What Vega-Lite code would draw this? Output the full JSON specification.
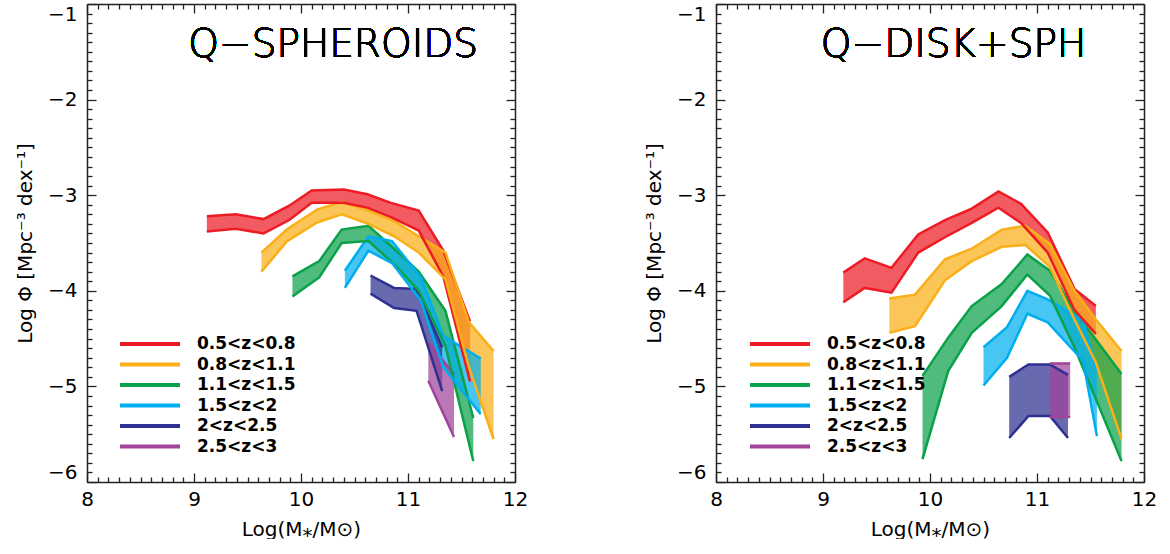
{
  "$schema": "https://vega.github.io/schema/vega-lite/v6.json",
  "padding": {"left": 15, "top": 3, "right": 5, "bottom": 0},
  "background": "white",
  "config": {
    "font": "DejaVu Sans",
    "view": {"stroke": null},
    "axis": {"grid": false, "labelFontSize": 20, "titleFontSize": 20, "titleFontWeight": "normal", "labelColor": "black", "titleColor": "black", "domainColor": "#222", "tickColor": "#222", "domainWidth": 1.5, "tickWidth": 1.3, "labelFlush": false, "labelOverlap": false},
    "legend": {"labelFont": "DejaVu Sans"}
  },
  "datasets": {
    "sph": [
      {"z": "0.5<z<0.8", "x": 9.12, "hi": -3.22, "lo": -3.38},
      {"z": "0.5<z<0.8", "x": 9.39, "hi": -3.20, "lo": -3.35},
      {"z": "0.5<z<0.8", "x": 9.65, "hi": -3.25, "lo": -3.40},
      {"z": "0.5<z<0.8", "x": 9.89, "hi": -3.11, "lo": -3.26},
      {"z": "0.5<z<0.8", "x": 10.10, "hi": -2.95, "lo": -3.08},
      {"z": "0.5<z<0.8", "x": 10.40, "hi": -2.94, "lo": -3.08},
      {"z": "0.5<z<0.8", "x": 10.62, "hi": -2.99, "lo": -3.13},
      {"z": "0.5<z<0.8", "x": 10.84, "hi": -3.08, "lo": -3.23},
      {"z": "0.5<z<0.8", "x": 11.10, "hi": -3.16, "lo": -3.37},
      {"z": "0.5<z<0.8", "x": 11.33, "hi": -3.58, "lo": -3.85},
      {"z": "0.5<z<0.8", "x": 11.58, "hi": -4.32, "lo": -4.95},
      {"z": "0.8<z<1.1", "x": 9.63, "hi": -3.60, "lo": -3.80},
      {"z": "0.8<z<1.1", "x": 9.87, "hi": -3.355, "lo": -3.48},
      {"z": "0.8<z<1.1", "x": 10.15, "hi": -3.15, "lo": -3.285},
      {"z": "0.8<z<1.1", "x": 10.38, "hi": -3.07, "lo": -3.20},
      {"z": "0.8<z<1.1", "x": 10.63, "hi": -3.16, "lo": -3.30},
      {"z": "0.8<z<1.1", "x": 10.87, "hi": -3.27, "lo": -3.43},
      {"z": "0.8<z<1.1", "x": 11.10, "hi": -3.43, "lo": -3.60},
      {"z": "0.8<z<1.1", "x": 11.35, "hi": -3.60, "lo": -3.88},
      {"z": "0.8<z<1.1", "x": 11.57, "hi": -4.33, "lo": -4.80},
      {"z": "0.8<z<1.1", "x": 11.80, "hi": -4.63, "lo": -5.55},
      {"z": "1.1<z<1.5", "x": 9.92, "hi": -3.85, "lo": -4.06},
      {"z": "1.1<z<1.5", "x": 10.17, "hi": -3.69, "lo": -3.86},
      {"z": "1.1<z<1.5", "x": 10.38, "hi": -3.36, "lo": -3.50},
      {"z": "1.1<z<1.5", "x": 10.63, "hi": -3.32, "lo": -3.48},
      {"z": "1.1<z<1.5", "x": 10.87, "hi": -3.56, "lo": -3.72},
      {"z": "1.1<z<1.5", "x": 11.10, "hi": -3.80, "lo": -4.00},
      {"z": "1.1<z<1.5", "x": 11.35, "hi": -4.21, "lo": -4.58},
      {"z": "1.1<z<1.5", "x": 11.61, "hi": -5.33, "lo": -5.78},
      {"z": "1.5<z<2", "x": 10.41, "hi": -3.79, "lo": -3.97},
      {"z": "1.5<z<2", "x": 10.63, "hi": -3.43, "lo": -3.58},
      {"z": "1.5<z<2", "x": 10.85, "hi": -3.48, "lo": -3.71},
      {"z": "1.5<z<2", "x": 11.12, "hi": -3.86, "lo": -4.10},
      {"z": "1.5<z<2", "x": 11.33, "hi": -4.47, "lo": -4.80},
      {"z": "1.5<z<2", "x": 11.68, "hi": -4.71, "lo": -5.29},
      {"z": "2<z<2.5", "x": 10.65, "hi": -3.84, "lo": -4.03},
      {"z": "2<z<2.5", "x": 10.87, "hi": -3.97, "lo": -4.18},
      {"z": "2<z<2.5", "x": 11.08, "hi": -3.98, "lo": -4.21},
      {"z": "2<z<2.5", "x": 11.32, "hi": -4.59, "lo": -5.05},
      {"z": "2.5<z<3", "x": 11.19, "hi": -4.54, "lo": -4.94},
      {"z": "2.5<z<3", "x": 11.43, "hi": -4.87, "lo": -5.53}
    ],
    "disk": [
      {"z": "0.5<z<0.8", "x": 9.19, "hi": -3.81, "lo": -4.12},
      {"z": "0.5<z<0.8", "x": 9.39, "hi": -3.66, "lo": -3.97},
      {"z": "0.5<z<0.8", "x": 9.64, "hi": -3.76, "lo": -4.02},
      {"z": "0.5<z<0.8", "x": 9.89, "hi": -3.41, "lo": -3.60},
      {"z": "0.5<z<0.8", "x": 10.14, "hi": -3.26, "lo": -3.44},
      {"z": "0.5<z<0.8", "x": 10.39, "hi": -3.14, "lo": -3.29},
      {"z": "0.5<z<0.8", "x": 10.64, "hi": -2.96, "lo": -3.13},
      {"z": "0.5<z<0.8", "x": 10.85, "hi": -3.09, "lo": -3.29},
      {"z": "0.5<z<0.8", "x": 11.10, "hi": -3.39, "lo": -3.60},
      {"z": "0.5<z<0.8", "x": 11.35, "hi": -3.98, "lo": -4.20},
      {"z": "0.5<z<0.8", "x": 11.55, "hi": -4.16, "lo": -4.45},
      {"z": "0.8<z<1.1", "x": 9.62, "hi": -4.08, "lo": -4.44},
      {"z": "0.8<z<1.1", "x": 9.86, "hi": -4.04, "lo": -4.37},
      {"z": "0.8<z<1.1", "x": 10.14, "hi": -3.67, "lo": -3.89},
      {"z": "0.8<z<1.1", "x": 10.39, "hi": -3.56, "lo": -3.69},
      {"z": "0.8<z<1.1", "x": 10.67, "hi": -3.36, "lo": -3.54},
      {"z": "0.8<z<1.1", "x": 10.89, "hi": -3.32, "lo": -3.52},
      {"z": "0.8<z<1.1", "x": 11.12, "hi": -3.51, "lo": -3.75},
      {"z": "0.8<z<1.1", "x": 11.35, "hi": -4.00, "lo": -4.30},
      {"z": "0.8<z<1.1", "x": 11.55, "hi": -4.30, "lo": -4.75},
      {"z": "0.8<z<1.1", "x": 11.79, "hi": -4.63, "lo": -5.55},
      {"z": "1.1<z<1.5", "x": 9.93, "hi": -4.89, "lo": -5.76},
      {"z": "1.1<z<1.5", "x": 10.17, "hi": -4.49, "lo": -4.84},
      {"z": "1.1<z<1.5", "x": 10.39, "hi": -4.16, "lo": -4.44},
      {"z": "1.1<z<1.5", "x": 10.67, "hi": -3.93, "lo": -4.16},
      {"z": "1.1<z<1.5", "x": 10.91, "hi": -3.62, "lo": -3.83},
      {"z": "1.1<z<1.5", "x": 11.12, "hi": -3.79, "lo": -4.05},
      {"z": "1.1<z<1.5", "x": 11.35, "hi": -4.21, "lo": -4.59},
      {"z": "1.1<z<1.5", "x": 11.79, "hi": -4.87, "lo": -5.78},
      {"z": "1.5<z<2", "x": 10.50, "hi": -4.59, "lo": -4.99},
      {"z": "1.5<z<2", "x": 10.72, "hi": -4.38, "lo": -4.70},
      {"z": "1.5<z<2", "x": 10.91, "hi": -4.00, "lo": -4.24},
      {"z": "1.5<z<2", "x": 11.10, "hi": -4.09, "lo": -4.33},
      {"z": "1.5<z<2", "x": 11.43, "hi": -4.31, "lo": -4.73},
      {"z": "1.5<z<2", "x": 11.56, "hi": -4.84, "lo": -5.52},
      {"z": "2<z<2.5", "x": 10.74, "hi": -4.90, "lo": -5.54},
      {"z": "2<z<2.5", "x": 10.92, "hi": -4.77, "lo": -5.31},
      {"z": "2<z<2.5", "x": 11.12, "hi": -4.77, "lo": -5.31},
      {"z": "2<z<2.5", "x": 11.29, "hi": -4.88, "lo": -5.54},
      {"z": "2.5<z<3", "x": 11.12, "hi": -4.76, "lo": -5.32},
      {"z": "2.5<z<3", "x": 11.31, "hi": -4.76, "lo": -5.32}
    ]
  },
  "resolve": {"scale": {"fill": "independent", "stroke": "independent"}, "legend": {"fill": "independent", "stroke": "independent"}},
  "spacing": 116,
  "hconcat": [
    {
      "width": 428, "height": 478,
      "data": {"name": "sph"},
      "resolve": {"axis": {"x": "independent", "y": "independent"}},
      "layer": [
        {
          "mark": {"type": "area", "fillOpacity": 0.72, "strokeWidth": 0},
          "encoding": {
            "x": {"field": "x", "type": "quantitative", "scale": {"domain": [8, 12], "nice": false, "zero": false},
                  "axis": {"orient": "bottom", "values": [8, 9, 10, 11, 12], "format": "d", "tickSize": -9, "labelPadding": 16, "title": "Log(M⁎/M⊙)", "titlePadding": 10}},
            "y": {"field": "hi", "type": "quantitative", "scale": {"domain": [-6, -1], "nice": false, "zero": false},
                  "axis": {"orient": "left", "values": [-6, -5, -4, -3, -2, -1], "format": "d", "tickSize": -9, "labelPadding": 19, "labelFlush": true, "title": "Log Φ [Mpc⁻³ dex⁻¹]", "titlePadding": 12}},
            "y2": {"field": "lo"},
            "fill": {"field": "z", "type": "nominal", "scale": {"domain": ["0.5<z<0.8", "0.8<z<1.1", "1.1<z<1.5", "1.5<z<2", "2<z<2.5", "2.5<z<3"], "range": ["#ED1C24", "#FAAF18", "#0BA14B", "#00AEEF", "#2E3192", "#A1449A"]},
                     "legend": {"orient": "none", "legendX": 31, "legendY": 328, "title": null, "padding": 0, "symbolType": "M-1,0H5", "symbolSize": 400, "symbolStrokeWidth": 4, "symbolOpacity": 1, "labelFontSize": 17, "labelFontWeight": "bold", "labelColor": "black", "labelOffset": 55, "rowPadding": 0.5, "labelLimit": 300}}
          }
        },
        {
          "mark": {"type": "line", "strokeWidth": 2.5},
          "encoding": {
            "x": {"field": "x", "type": "quantitative", "axis": {"orient": "top", "values": [8, 9, 10, 11, 12], "tickSize": -9, "labels": false, "title": null}},
            "y": {"field": "hi", "type": "quantitative", "axis": {"orient": "right", "values": [-6, -5, -4, -3, -2, -1], "tickSize": -9, "labels": false, "title": null}},
            "stroke": {"field": "z", "type": "nominal", "scale": {"domain": ["0.5<z<0.8", "0.8<z<1.1", "1.1<z<1.5", "1.5<z<2", "2<z<2.5", "2.5<z<3"], "range": ["#ED1C24", "#FAAF18", "#0BA14B", "#00AEEF", "#2E3192", "#A1449A"]},
                       "legend": {"orient": "none", "legendX": 31, "legendY": 328, "title": null, "padding": 0, "symbolType": "M-1,0H5", "symbolSize": 400, "symbolStrokeWidth": 4, "symbolOpacity": 1, "labelFontSize": 17, "labelFontWeight": "bold", "labelColor": "black", "labelOffset": 55, "rowPadding": 0.5, "labelLimit": 300}}
          }
        },
        {
          "mark": {"type": "line", "strokeWidth": 2.5},
          "encoding": {
            "x": {"field": "x", "type": "quantitative", "axis": {"orient": "bottom", "values": [8.1,8.2,8.3,8.4,8.5,8.6,8.7,8.8,8.9,9.1,9.2,9.3,9.4,9.5,9.6,9.7,9.8,9.9,10.1,10.2,10.3,10.4,10.5,10.6,10.7,10.8,10.9,11.1,11.2,11.3,11.4,11.5,11.6,11.7,11.8,11.9], "tickSize": -5, "labels": false, "domain": false, "title": null}},
            "y": {"field": "lo", "type": "quantitative", "axis": {"orient": "left", "values": [-5.9,-5.8,-5.7,-5.6,-5.5,-5.4,-5.3,-5.2,-5.1,-4.9,-4.8,-4.7,-4.6,-4.5,-4.4,-4.3,-4.2,-4.1,-3.9,-3.8,-3.7,-3.6,-3.5,-3.4,-3.3,-3.2,-3.1,-2.9,-2.8,-2.7,-2.6,-2.5,-2.4,-2.3,-2.2,-2.1,-1.9,-1.8,-1.7,-1.6,-1.5,-1.4,-1.3,-1.2,-1.1], "tickSize": -5, "labels": false, "domain": false, "title": null}},
            "stroke": {"field": "z", "type": "nominal"}
          }
        },
        {
          "mark": {"type": "point", "opacity": 0},
          "encoding": {
            "x": {"field": "x", "type": "quantitative", "axis": {"orient": "top", "values": [8.1,8.2,8.3,8.4,8.5,8.6,8.7,8.8,8.9,9.1,9.2,9.3,9.4,9.5,9.6,9.7,9.8,9.9,10.1,10.2,10.3,10.4,10.5,10.6,10.7,10.8,10.9,11.1,11.2,11.3,11.4,11.5,11.6,11.7,11.8,11.9], "tickSize": -5, "labels": false, "domain": false, "title": null}},
            "y": {"field": "lo", "type": "quantitative", "axis": {"orient": "right", "values": [-5.9,-5.8,-5.7,-5.6,-5.5,-5.4,-5.3,-5.2,-5.1,-4.9,-4.8,-4.7,-4.6,-4.5,-4.4,-4.3,-4.2,-4.1,-3.9,-3.8,-3.7,-3.6,-3.5,-3.4,-3.3,-3.2,-3.1,-2.9,-2.8,-2.7,-2.6,-2.5,-2.4,-2.3,-2.2,-2.1,-1.9,-1.8,-1.7,-1.6,-1.5,-1.4,-1.3,-1.2,-1.1], "tickSize": -5, "labels": false, "domain": false, "title": null}}
          }
        },
        {
          "mark": {"type": "text", "text": "Q−SPHEROIDS", "fontSize": 39, "font": "'DejaVu Sans ExtraLight', 'DejaVu Sans', sans-serif", "fontWeight": 300, "align": "center", "baseline": "middle", "color": "black"},
          "encoding": {
            "x": {"datum": 10.3, "type": "quantitative", "axis": null},
            "y": {"datum": -1.43, "type": "quantitative", "axis": null}
          }
        }
      ]
    },
    {
      "width": 428, "height": 478,
      "data": {"name": "disk"},
      "resolve": {"axis": {"x": "independent", "y": "independent"}},
      "layer": [
        {
          "mark": {"type": "area", "fillOpacity": 0.72, "strokeWidth": 0},
          "encoding": {
            "x": {"field": "x", "type": "quantitative", "scale": {"domain": [8, 12], "nice": false, "zero": false},
                  "axis": {"orient": "bottom", "values": [8, 9, 10, 11, 12], "format": "d", "tickSize": -9, "labelPadding": 16, "title": "Log(M⁎/M⊙)", "titlePadding": 10}},
            "y": {"field": "hi", "type": "quantitative", "scale": {"domain": [-6, -1], "nice": false, "zero": false},
                  "axis": {"orient": "left", "values": [-6, -5, -4, -3, -2, -1], "format": "d", "tickSize": -9, "labelPadding": 19, "labelFlush": true, "title": "Log Φ [Mpc⁻³ dex⁻¹]", "titlePadding": 12}},
            "y2": {"field": "lo"},
            "fill": {"field": "z", "type": "nominal", "scale": {"domain": ["0.5<z<0.8", "0.8<z<1.1", "1.1<z<1.5", "1.5<z<2", "2<z<2.5", "2.5<z<3"], "range": ["#ED1C24", "#FAAF18", "#0BA14B", "#00AEEF", "#2E3192", "#A1449A"]},
                     "legend": {"orient": "none", "legendX": 32, "legendY": 328, "title": null, "padding": 0, "symbolType": "M-1,0H5", "symbolSize": 400, "symbolStrokeWidth": 4, "symbolOpacity": 1, "labelFontSize": 17, "labelFontWeight": "bold", "labelColor": "black", "labelOffset": 55, "rowPadding": 0.5, "labelLimit": 300}}
          }
        },
        {
          "mark": {"type": "line", "strokeWidth": 2.5},
          "encoding": {
            "x": {"field": "x", "type": "quantitative", "axis": {"orient": "top", "values": [8, 9, 10, 11, 12], "tickSize": -9, "labels": false, "title": null}},
            "y": {"field": "hi", "type": "quantitative", "axis": {"orient": "right", "values": [-6, -5, -4, -3, -2, -1], "tickSize": -9, "labels": false, "title": null}},
            "stroke": {"field": "z", "type": "nominal", "scale": {"domain": ["0.5<z<0.8", "0.8<z<1.1", "1.1<z<1.5", "1.5<z<2", "2<z<2.5", "2.5<z<3"], "range": ["#ED1C24", "#FAAF18", "#0BA14B", "#00AEEF", "#2E3192", "#A1449A"]},
                       "legend": {"orient": "none", "legendX": 32, "legendY": 328, "title": null, "padding": 0, "symbolType": "M-1,0H5", "symbolSize": 400, "symbolStrokeWidth": 4, "symbolOpacity": 1, "labelFontSize": 17, "labelFontWeight": "bold", "labelColor": "black", "labelOffset": 55, "rowPadding": 0.5, "labelLimit": 300}}
          }
        },
        {
          "mark": {"type": "line", "strokeWidth": 2.5},
          "encoding": {
            "x": {"field": "x", "type": "quantitative", "axis": {"orient": "bottom", "values": [8.1,8.2,8.3,8.4,8.5,8.6,8.7,8.8,8.9,9.1,9.2,9.3,9.4,9.5,9.6,9.7,9.8,9.9,10.1,10.2,10.3,10.4,10.5,10.6,10.7,10.8,10.9,11.1,11.2,11.3,11.4,11.5,11.6,11.7,11.8,11.9], "tickSize": -5, "labels": false, "domain": false, "title": null}},
            "y": {"field": "lo", "type": "quantitative", "axis": {"orient": "left", "values": [-5.9,-5.8,-5.7,-5.6,-5.5,-5.4,-5.3,-5.2,-5.1,-4.9,-4.8,-4.7,-4.6,-4.5,-4.4,-4.3,-4.2,-4.1,-3.9,-3.8,-3.7,-3.6,-3.5,-3.4,-3.3,-3.2,-3.1,-2.9,-2.8,-2.7,-2.6,-2.5,-2.4,-2.3,-2.2,-2.1,-1.9,-1.8,-1.7,-1.6,-1.5,-1.4,-1.3,-1.2,-1.1], "tickSize": -5, "labels": false, "domain": false, "title": null}},
            "stroke": {"field": "z", "type": "nominal"}
          }
        },
        {
          "mark": {"type": "point", "opacity": 0},
          "encoding": {
            "x": {"field": "x", "type": "quantitative", "axis": {"orient": "top", "values": [8.1,8.2,8.3,8.4,8.5,8.6,8.7,8.8,8.9,9.1,9.2,9.3,9.4,9.5,9.6,9.7,9.8,9.9,10.1,10.2,10.3,10.4,10.5,10.6,10.7,10.8,10.9,11.1,11.2,11.3,11.4,11.5,11.6,11.7,11.8,11.9], "tickSize": -5, "labels": false, "domain": false, "title": null}},
            "y": {"field": "lo", "type": "quantitative", "axis": {"orient": "right", "values": [-5.9,-5.8,-5.7,-5.6,-5.5,-5.4,-5.3,-5.2,-5.1,-4.9,-4.8,-4.7,-4.6,-4.5,-4.4,-4.3,-4.2,-4.1,-3.9,-3.8,-3.7,-3.6,-3.5,-3.4,-3.3,-3.2,-3.1,-2.9,-2.8,-2.7,-2.6,-2.5,-2.4,-2.3,-2.2,-2.1,-1.9,-1.8,-1.7,-1.6,-1.5,-1.4,-1.3,-1.2,-1.1], "tickSize": -5, "labels": false, "domain": false, "title": null}}
          }
        },
        {
          "mark": {"type": "text", "text": "Q−DISK+SPH", "fontSize": 39, "font": "'DejaVu Sans ExtraLight', 'DejaVu Sans', sans-serif", "fontWeight": 300, "align": "center", "baseline": "middle", "color": "black"},
          "encoding": {
            "x": {"datum": 10.22, "type": "quantitative", "axis": null},
            "y": {"datum": -1.43, "type": "quantitative", "axis": null}
          }
        }
      ]
    }
  ]
}
